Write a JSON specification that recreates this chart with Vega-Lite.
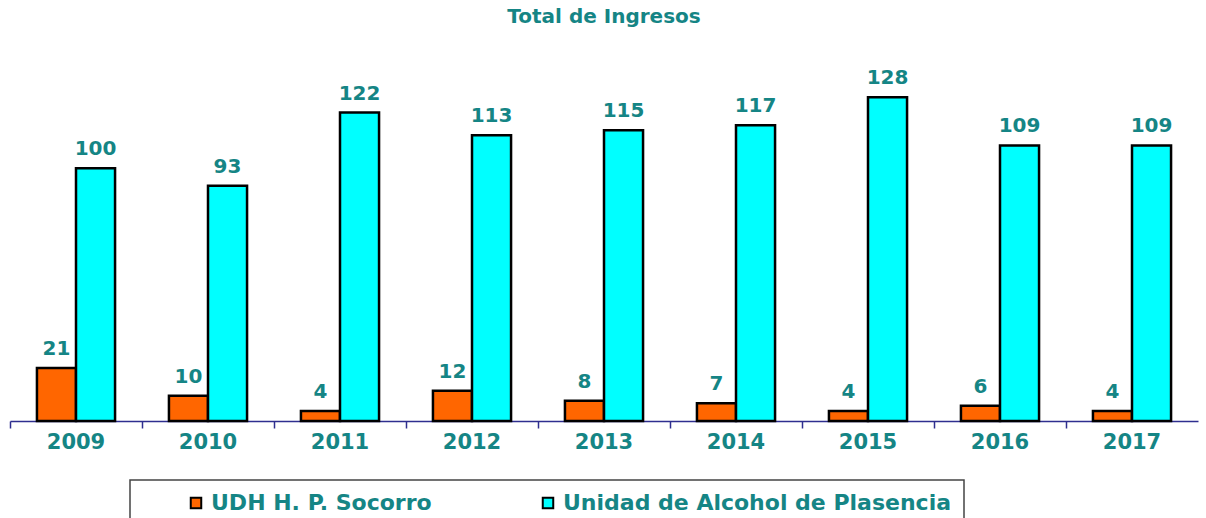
{
  "$schema": "https://vega.github.io/schema/vega-lite/v6.json",
  "autosize": "none",
  "width": 1188,
  "height": 354,
  "padding": {"left": 10, "top": 67, "right": 8, "bottom": 97},
  "background": "white",
  "title": {
    "text": "Total de Ingresos",
    "font": "DejaVu Sans",
    "fontSize": 20,
    "fontWeight": "bold",
    "color": "#158585",
    "anchor": "middle",
    "offset": 40
  },
  "data": {
    "values": [
      {"year": "2009", "serie": "UDH H. P. Socorro", "valor": 21},
      {"year": "2009", "serie": "Unidad de Alcohol de Plasencia", "valor": 100},
      {"year": "2010", "serie": "UDH H. P. Socorro", "valor": 10},
      {"year": "2010", "serie": "Unidad de Alcohol de Plasencia", "valor": 93},
      {"year": "2011", "serie": "UDH H. P. Socorro", "valor": 4},
      {"year": "2011", "serie": "Unidad de Alcohol de Plasencia", "valor": 122},
      {"year": "2012", "serie": "UDH H. P. Socorro", "valor": 12},
      {"year": "2012", "serie": "Unidad de Alcohol de Plasencia", "valor": 113},
      {"year": "2013", "serie": "UDH H. P. Socorro", "valor": 8},
      {"year": "2013", "serie": "Unidad de Alcohol de Plasencia", "valor": 115},
      {"year": "2014", "serie": "UDH H. P. Socorro", "valor": 7},
      {"year": "2014", "serie": "Unidad de Alcohol de Plasencia", "valor": 117},
      {"year": "2015", "serie": "UDH H. P. Socorro", "valor": 4},
      {"year": "2015", "serie": "Unidad de Alcohol de Plasencia", "valor": 128},
      {"year": "2016", "serie": "UDH H. P. Socorro", "valor": 6},
      {"year": "2016", "serie": "Unidad de Alcohol de Plasencia", "valor": 109},
      {"year": "2017", "serie": "UDH H. P. Socorro", "valor": 4},
      {"year": "2017", "serie": "Unidad de Alcohol de Plasencia", "valor": 109}
    ]
  },
  "encoding": {
    "x": {
      "field": "year",
      "type": "nominal",
      "scale": {"paddingInner": 0, "paddingOuter": 0},
      "axis": {
        "title": null,
        "labelAngle": 0,
        "bandPosition": 0,
        "labelFont": "DejaVu Sans",
        "labelFontSize": 21,
        "labelFontWeight": "bold",
        "labelColor": "#158585",
        "labelPadding": 3,
        "domainColor": "#2e2e8f",
        "domainWidth": 1.5,
        "tickColor": "#2e2e8f",
        "tickWidth": 1.5,
        "tickSize": 7,
        "grid": false
      }
    },
    "xOffset": {
      "field": "serie",
      "type": "nominal",
      "scale": {"paddingInner": 0, "paddingOuter": 0.69}
    },
    "y": {
      "field": "valor",
      "type": "quantitative",
      "scale": {"domain": [0, 140], "nice": false},
      "axis": null
    }
  },
  "layer": [
    {
      "mark": {"type": "bar", "stroke": "black", "strokeWidth": 2.5},
      "encoding": {
        "color": {
          "field": "serie",
          "type": "nominal",
          "scale": {"range": ["#ff6600", "#00ffff"]},
          "legend": {
            "title": null,
            "orient": "none",
            "direction": "horizontal",
            "legendX": 120,
            "legendY": 413,
            "padding": 12,
            "strokeColor": "#444444",
            "symbolType": "square",
            "symbolSize": 110,
            "symbolStrokeColor": "black",
            "symbolStrokeWidth": 2,
            "symbolOffset": 43,
            "labelFont": "DejaVu Sans",
            "labelFontSize": 22,
            "labelFontWeight": "bold",
            "labelColor": "#158585",
            "labelOffset": 4,
            "labelLimit": 600,
            "columnPadding": 62,
            "encode": {
              "legend": {"update": {"width": {"value": 921}, "strokeWidth": {"value": 1.5}}}
            }
          }
        }
      }
    },
    {
      "mark": {
        "type": "text",
        "baseline": "bottom",
        "dy": -9,
        "font": "DejaVu Sans",
        "fontSize": 20,
        "fontWeight": "bold",
        "color": "#158585"
      },
      "encoding": {
        "text": {"field": "valor", "type": "quantitative"}
      }
    }
  ],
  "config": {"view": {"stroke": null}}
}
